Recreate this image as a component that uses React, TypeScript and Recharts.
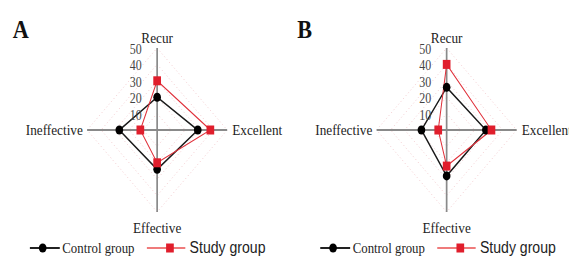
import React from 'react';
import { RadarChart, Radar, PolarGrid, PolarAngleAxis, PolarRadiusAxis } from 'recharts';

// values (percent of patients)
const categories = ['Recur', 'Excellent', 'Effective', 'Ineffective'];
const controlA = [20, 29, 24, 27];
const studyA = [30, 38, 20, 12];
const controlB = [26, 28, 28, 18];
const studyB = [40, 32, 22, 6];
const radiusTicks = [0, 10, 20, 30, 40, 50];

// the original figure is squeezed horizontally
const SQUEEZE = 0.854;
const PANEL_W = 333;
const PANEL_H = 262;

const serif = '"Liberation Serif", "DejaVu Serif", serif';
const sans = '"Liberation Sans", Arial, sans-serif';

const labelPos: Record<string, { dx: number; dy: number; anchor: 'start' | 'middle' | 'end' }> = {
  Recur: { dx: 0, dy: 3, anchor: 'middle' },
  Excellent: { dx: -2, dy: 5, anchor: 'start' },
  Effective: { dx: 0, dy: 13, anchor: 'middle' },
  Ineffective: { dx: 3, dy: 5, anchor: 'end' },
};

const AngleTick = ({ x, y, payload }: any) => {
  const p = labelPos[payload.value] || { dx: 0, dy: 0, anchor: 'middle' };
  return (
    <text x={x + p.dx} y={y + p.dy} textAnchor={p.anchor} fontFamily={serif} fontSize={15.5} fill="#222">
      {payload.value}
    </text>
  );
};

const RadiusTick = ({ x, y, payload }: any) => {
  if (payload.value === 0) return null;
  return (
    <text x={x - 18} y={y + 6} textAnchor="end" fontFamily={serif} fontSize={14} fill="#444">
      {payload.value}
    </text>
  );
};

const StudyDot = (props: any) => {
  const { cx, cy, index } = props;
  return <rect key={`sq-${index}`} x={cx - 4.5} y={cy - 4.5} width={9} height={9} fill="#e01e2c" />;
};

interface PanelProps {
  letter: string;
  control: number[];
  study: number[];
  cx: number;
  shift: number;
}

const Panel: React.FC<PanelProps> = ({ letter, control, study, cx, shift }) => {
  const data = categories.map((name, i) => ({ name, control: control[i], study: study[i] }));
  return (
    <div style={{ position: 'relative', width: PANEL_W, height: PANEL_H, overflow: 'hidden' }}>
      <RadarChart
        width={PANEL_W}
        height={PANEL_H}
        data={data}
        cx={cx}
        cy={130}
        outerRadius={82}
        margin={{ top: 0, right: 0, bottom: 0, left: 0 }}
      >
        <PolarGrid gridType="polygon" radialLines={false} stroke="#f1c4c8" strokeDasharray="1 3" />
        <PolarGrid gridType="polygon" polarRadius={[]} stroke="#8a8a8a" strokeWidth={2} />
        <PolarAngleAxis dataKey="name" axisLine={false} tickLine={false} tick={<AngleTick />} />
        <PolarRadiusAxis
          angle={90}
          domain={[0, 50]}
          ticks={radiusTicks as any}
          tickCount={6}
          axisLine={false}
          tickLine={false}
          tick={<RadiusTick />}
        />
        <Radar
          name="Control group"
          dataKey="control"
          stroke="#1a1a1a"
          strokeWidth={1.6}
          fill="none"
          dot={{ r: 4.5, fill: '#000', stroke: '#000', strokeWidth: 0 }}
          isAnimationActive={false}
        />
        <Radar
          name="Study group"
          dataKey="study"
          stroke="#e0303a"
          strokeWidth={1.2}
          fill="none"
          dot={StudyDot}
          isAnimationActive={false}
        />
      </RadarChart>
      <svg width={PANEL_W} height={PANEL_H} style={{ position: 'absolute', left: 0, top: 0, pointerEvents: 'none' }}>
        <text x={15} y={38} fontFamily={serif} fontWeight="bold" fontSize={26} fill="#111">
          {letter}
        </text>
        <g transform={`translate(${shift},0)`}>
          <line x1={35} y1={248} x2={70} y2={248} stroke="#222" strokeWidth={2} />
          <circle cx={50} cy={248} r={4.5} fill="#000" />
          <text x={73} y={253} fontFamily={serif} fontSize={15} fill="#222">Control group</text>
          <line x1={172} y1={248} x2={217} y2={248} stroke="#ef7b7b" strokeWidth={2} />
          <rect x={194.5} y={243.5} width={9} height={9} fill="#e01e2c" />
          <text x={222} y={253} fontFamily={sans} fontSize={16.5} fill="#222">Study group</text>
        </g>
      </svg>
    </div>
  );
};

export default function App() {
  return (
    <div style={{ position: 'absolute', left: 0, top: 0, width: 569, height: 262, overflow: 'hidden', background: '#fff' }}>
      <div
        style={{
          display: 'flex',
          width: PANEL_W * 2,
          height: PANEL_H,
          transform: `scaleX(${SQUEEZE})`,
          transformOrigin: '0 0',
        }}
      >
        <Panel letter="A" control={controlA} study={studyA} cx={184} shift={0} />
        <Panel letter="B" control={controlB} study={studyB} cx={190} shift={7} />
      </div>
    </div>
  );
}
